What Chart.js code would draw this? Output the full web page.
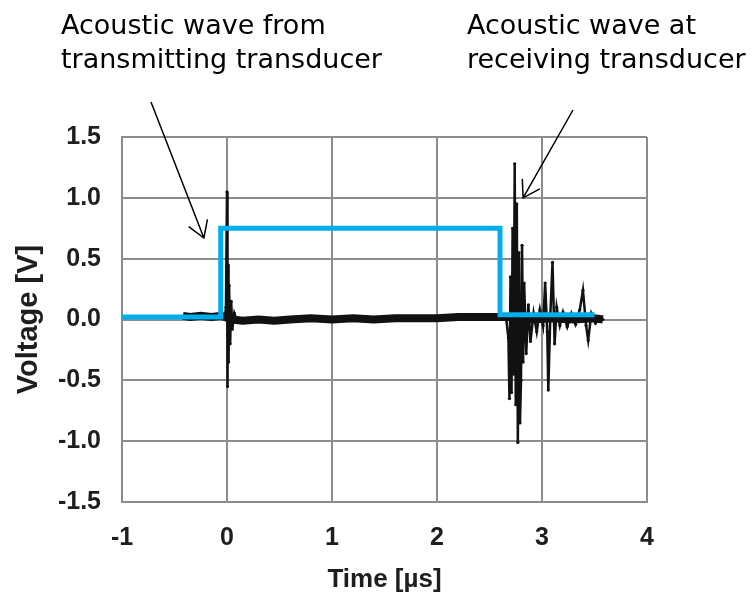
<!DOCTYPE html>
<html>
<head>
<meta charset="utf-8">
<script src="https://cdn.jsdelivr.net/npm/chart.js@4.4.1/dist/chart.umd.min.js"></script>
<style>
  html, body { margin: 0; padding: 0; background: #fff; }
  #wrap { width: 752px; height: 602px; }
</style>
</head>
<body>
<div id="wrap"><canvas id="scopeChart" width="752" height="602"></canvas></div>
<script>
// gate signal (blue step)
const gateTime = [-1, -0.06, -0.06, 2.6, 2.6, 3.5];
const gateVolt = [0.02, 0.02, 0.75, 0.75, 0.04, 0.04];

// noisy baseline of the scope trace
const baseTime = [-0.42, -0.35, -0.25, -0.15, -0.05, 0.05, 0.15, 0.3, 0.45, 0.6, 0.8, 1.0, 1.2, 1.4, 1.6, 1.8, 2.0, 2.2, 2.4, 2.55, 2.68, 2.9, 3.1, 3.3, 3.5, 3.58];
const baseVolt = [0.03, 0.02, 0.03, 0.02, 0.03, 0.0, -0.01, 0.0, -0.01, 0.0, 0.01, 0.0, 0.01, 0.0, 0.01, 0.01, 0.01, 0.02, 0.02, 0.02, 0.02, 0.0, 0.01, 0.0, 0.01, 0.0];

// spike at the transmitting transducer
const txTime = [-0.02, -0.01, 0.0, 0.005, 0.01, 0.015, 0.02, 0.03, 0.04, 0.05, 0.07, 0.09];
const txVolt = [0.02, 0.1, 1.05, -0.55, 0.45, -0.35, 0.28, -0.2, 0.15, -0.08, 0.05, 0.0];

// burst at the receiving transducer
const rxTime = [2.62, 2.66, 2.68, 2.69, 2.70, 2.71, 2.72, 2.73, 2.74, 2.75, 2.76, 2.77, 2.78, 2.79, 2.80, 2.81, 2.82, 2.83, 2.85, 2.87, 2.89, 2.92, 2.95, 2.98, 3.01, 3.03, 3.05, 3.06, 3.08, 3.10, 3.12, 3.14, 3.17, 3.20, 3.24, 3.28, 3.32, 3.36, 3.39, 3.42, 3.44, 3.47, 3.51, 3.55, 3.58];
const rxVolt = [0.02, 0.0, -0.15, -0.65, 0.35, -0.6, 0.75, -0.45, 1.28, -0.7, 0.95, -1.01, 0.55, -0.85, -0.5, 0.61, -0.35, 0.3, -0.28, 0.12, -0.18, 0.05, -0.1, 0.08, -0.05, 0.30, -0.1, -0.58, 0.05, 0.47, -0.2, 0.1, -0.05, 0.06, -0.06, 0.05, -0.04, 0.08, 0.24, -0.05, -0.17, 0.05, -0.03, 0.02, 0.0];

const calloutLines = [
  ['Acoustic wave from', 'transmitting transducer'],
  ['Acoustic wave at', 'receiving transducer']
];
// arrow tips in data units
const arrowTips = [[-0.22, 0.67], [2.82, 1.0]];

const pts = (xs, ys) => xs.map((t, i) => ({ x: t, y: ys[i] }));

const fontFamily = '"Liberation Sans", Arial, sans-serif';
const tickFont = { family: fontFamily, size: 25, weight: 'bold' };
const axisColor = '#1e1e1e';
const gridColor = '#8c8c8c';

function drawArrow(ctx, x0, y0, x1, y1) {
  const ang = Math.atan2(y0 - y1, x0 - x1);
  const len = 19, spread = 32 * Math.PI / 180;
  ctx.beginPath();
  ctx.moveTo(x0, y0);
  ctx.lineTo(x1, y1);
  ctx.moveTo(x1 + len * Math.cos(ang - spread), y1 + len * Math.sin(ang - spread));
  ctx.lineTo(x1, y1);
  ctx.lineTo(x1 + len * Math.cos(ang + spread), y1 + len * Math.sin(ang + spread));
  ctx.stroke();
}

const calloutPlugin = {
  id: 'callouts',
  afterDraw(chart) {
    const { ctx, scales: { x, y } } = chart;
    ctx.save();
    ctx.fillStyle = '#000';
    ctx.font = '27px "DejaVu Sans", sans-serif';
    ctx.textAlign = 'left';
    ctx.textBaseline = 'alphabetic';
    ctx.fillText(calloutLines[0][0], 61, 34);
    ctx.fillText(calloutLines[0][1], 61, 68);
    ctx.fillText(calloutLines[1][0], 467, 34);
    ctx.fillText(calloutLines[1][1], 467, 68);

    ctx.strokeStyle = '#000';
    ctx.lineWidth = 1.5;
    drawArrow(ctx, 151, 102, x.getPixelForValue(arrowTips[0][0]), y.getPixelForValue(arrowTips[0][1]));
    drawArrow(ctx, 573, 110, x.getPixelForValue(arrowTips[1][0]), y.getPixelForValue(arrowTips[1][1]));
    ctx.restore();
  }
};

const ctx = document.getElementById('scopeChart').getContext('2d');
new Chart(ctx, {
  type: 'scatter',
  data: {
    datasets: [
      {
        label: 'Gate',
        data: pts(gateTime, gateVolt),
        showLine: true,
        borderColor: 'rgb(0, 174, 239)',
        borderWidth: 5,
        pointRadius: 0,
        borderJoinStyle: 'miter',
        borderCapStyle: 'butt'
      },
      {
        label: 'Tx spike',
        data: pts(txTime, txVolt),
        showLine: true,
        borderColor: '#111',
        borderWidth: 2.5,
        pointRadius: 1.6,
        pointBackgroundColor: '#111',
        pointBorderWidth: 0
      },
      {
        label: 'Rx burst',
        data: pts(rxTime, rxVolt),
        showLine: true,
        borderColor: '#111',
        borderWidth: 2.5,
        pointRadius: 1.6,
        pointBackgroundColor: '#111',
        pointBorderWidth: 0
      },
      {
        label: 'Baseline',
        data: pts(baseTime, baseVolt),
        showLine: true,
        borderColor: '#111',
        borderWidth: 8,
        pointRadius: 0
      }
    ]
  },
  options: {
    responsive: false,
    animation: false,
    layout: { padding: { top: 137, right: 105, left: 0, bottom: 0 } },
    plugins: { legend: { display: false }, tooltip: { enabled: false } },
    scales: {
      x: {
        type: 'linear',
        min: -1,
        max: 4,
        ticks: { stepSize: 1, padding: 21, font: tickFont, color: axisColor },
        grid: { color: gridColor, lineWidth: 2, drawTicks: false },
        border: { color: gridColor, width: 2 },
        title: { display: true, text: 'Time [µs]', font: { family: fontFamily, size: 26, weight: 'bold' }, color: axisColor, padding: { top: 0, bottom: 7 } },
        afterFit(scale) { scale.height = 100; }
      },
      y: {
        min: -1.5,
        max: 1.5,
        ticks: { stepSize: 0.5, padding: 21, font: tickFont, color: axisColor, callback: v => v.toFixed(1) },
        grid: { color: gridColor, lineWidth: 2, drawTicks: false },
        border: { color: gridColor, width: 2 },
        title: { display: true, text: 'Voltage [V]', font: { family: fontFamily, size: 29, weight: 'bold' }, color: axisColor, padding: { top: 12, bottom: 0 } },
        afterFit(scale) { scale.width = 122; }
      }
    }
  },
  plugins: [calloutPlugin]
});
</script>
</body>
</html>
